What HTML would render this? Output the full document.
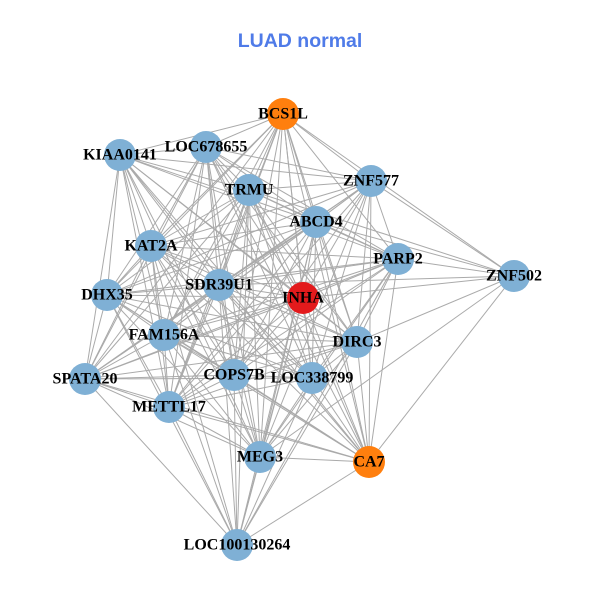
<!DOCTYPE html>
<html><head><meta charset="utf-8"><style>
html,body{margin:0;padding:0;background:#fff;width:600px;height:600px;overflow:hidden}
svg{display:block}
.t{font-family:"Liberation Serif",serif;font-weight:bold;font-size:16px;fill:#000;text-anchor:middle;dominant-baseline:central}
</style></head><body>
<svg id="s" width="600" height="600" viewBox="0 0 600 600">
<text x="300" y="41" text-anchor="middle" dominant-baseline="central" style="font-family:'Liberation Sans',sans-serif;font-weight:bold;font-size:19.5px;fill:#4f7be8">LUAD normal</text>
<g id="e" stroke="#aaaaaa" stroke-width="1"></g>
<g id="n"></g>
</svg>
<script>
var N={BCS1L:[283,114,'#ff7f0e'],LOC678655:[206,147],KIAA0141:[120,155],TRMU:[249,190],ZNF577:[371,181],ABCD4:[316,222],KAT2A:[151,246],PARP2:[398,259],ZNF502:[514,276],DHX35:[107,295],SDR39U1:[219,285],INHA:[303,298,'#e31a1c'],FAM156A:[164,335],DIRC3:[357,342],SPATA20:[85,379],COPS7B:[234,375],LOC338799:[312,378],METTL17:[169,407],MEG3:[260,457],CA7:[369,462,'#ff7f0e'],LOC100130264:[237,545]};
var Z=['ZNF577','BCS1L','TRMU','ABCD4','PARP2','SDR39U1','INHA','DIRC3','MEG3','CA7'];
var L=['SPATA20','METTL17','FAM156A','DHX35','KAT2A','SDR39U1','COPS7B','MEG3','INHA','ABCD4','LOC338799','DIRC3','CA7','TRMU','PARP2'];
var k=Object.keys(N),e='',n='';
for(var i=0;i<k.length;i++)for(var j=i+1;j<k.length;j++){var a=k[i],b=k[j];
if(a=='ZNF502'&&Z.indexOf(b)<0)continue;if(b=='ZNF502'&&Z.indexOf(a)<0)continue;
if(a=='LOC100130264'&&L.indexOf(b)<0)continue;if(b=='LOC100130264'&&L.indexOf(a)<0)continue;
e+='<line x1="'+N[a][0]+'" y1="'+N[a][1]+'" x2="'+N[b][0]+'" y2="'+N[b][1]+'"/>';}
k.forEach(function(a){n+='<circle cx="'+N[a][0]+'" cy="'+N[a][1]+'" r="16" fill="'+(N[a][2]||'#7fb0d5')+'"/>';});
k.forEach(function(a){n+='<text class="t" x="'+N[a][0]+'" y="'+N[a][1]+'">'+a+'</text>';});
document.getElementById('e').innerHTML=e;document.getElementById('n').innerHTML=n;
</script>
</body></html>
